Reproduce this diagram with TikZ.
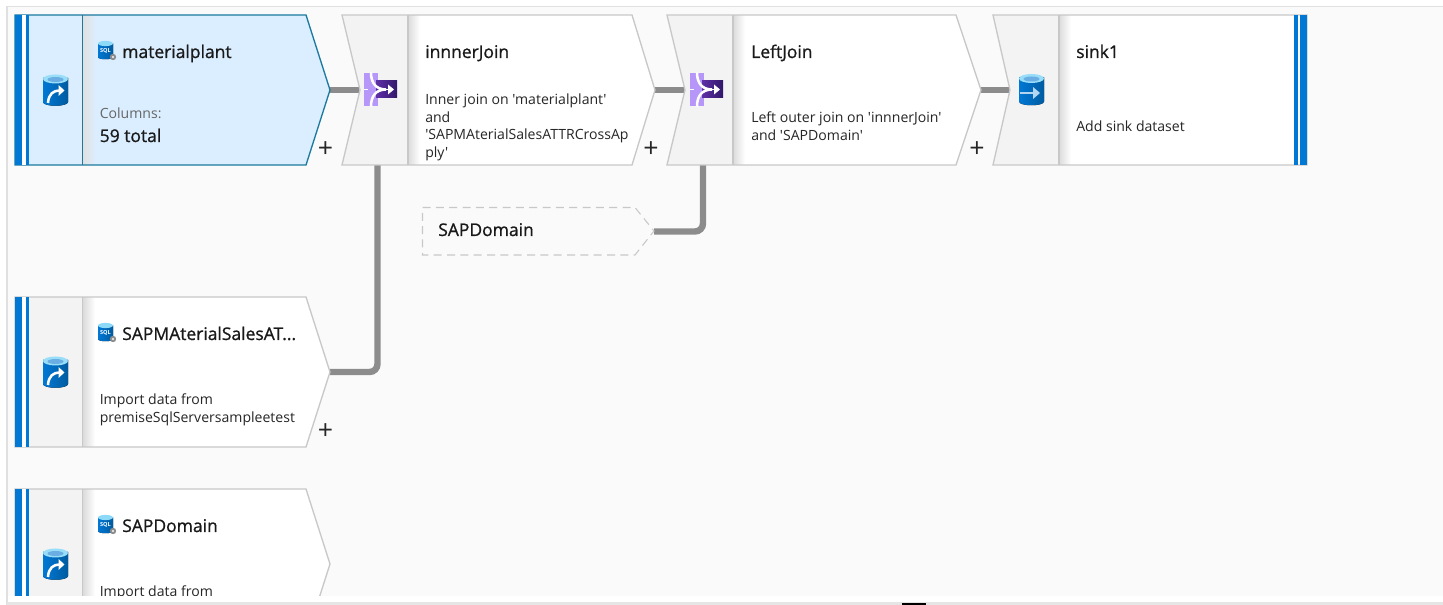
\documentclass[tikz,border=0pt]{standalone}
\usepackage{fontspec}
\setmainfont{Open Sans}
\newfontfamily\titlefont{Open Sans}[FakeBold=0.9]
\newfontfamily\bodyfont{Open Sans}
\usetikzlibrary{calc}
\definecolor{canvas}{HTML}{FAFAFA}
\definecolor{edgegrey}{HTML}{C8C8C8}
\definecolor{panelgrey}{HTML}{F3F3F3}
\definecolor{azure}{HTML}{0078D4}
\definecolor{azuredark}{HTML}{005BA1}
\definecolor{selfill}{HTML}{DBEEFF}
\definecolor{seledge}{HTML}{1B7A9E}
\definecolor{linkgrey}{HTML}{8C8C8C}
\definecolor{joinlight}{HTML}{B796F9}
\definecolor{joindark}{HTML}{32176B}
\definecolor{joinmid}{HTML}{5E2FA6}
\tikzset{
  x=0.75pt,y=-0.75pt,
  shapeedge/.style={draw=edgegrey,line width=1pt,line join=miter},
  link/.style={draw=linkgrey,line width=4.8pt,rounded corners=6pt},
  titletext/.style={anchor=base west,inner sep=0pt,font=\titlefont\fontsize{13.1pt}{15pt}\selectfont,text=black!90},
  bodytext/.style={anchor=base west,inner sep=0pt,font=\bodyfont\fontsize{10.55pt}{13pt}\selectfont,text=black!85},
  plusmark/.style={anchor=center,inner sep=0pt,font=\bodyfont\fontsize{20pt}{20pt}\selectfont,text=black!85},
  pics/cyl/.style={code={
    \fill[left color=azure,right color=azuredark] (-12.5,-12) -- (-12.5,12) .. controls (-12.5,17) and (12.5,17) .. (12.5,12) -- (12.5,-12) -- cycle;
    \fill[white!60!cyan] (0,-11) ellipse [x radius=12.5,y radius=4.5];
    \fill[cyan!70!blue!60] (0,-10.5) ellipse [x radius=8,y radius=2.5];
  }},
  pics/srcarrow/.style={code={
    \draw[white,line width=1.9pt] (-7.5,13) .. controls (-7,4) and (-2,0.5) .. (4,0.5);
    \fill[white] (3,-5) -- (9,0.5) -- (3,6) -- cycle;
  }},
  pics/sqlicon/.style={code={
    \fill[left color=azure,right color=azuredark] (-7.5,-6.5) -- (-7.5,7) .. controls (-7.5,10) and (7.5,10) .. (7.5,7) -- (7.5,-6.5) -- cycle;
    \fill[white!55!cyan] (0,-6.5) ellipse [x radius=7.5,y radius=2.6];
    \node[inner sep=0pt,text=white,font=\bodyfont\fontsize{4.2pt}{5pt}\selectfont\bfseries] at (0,1) {SQL};
    \fill[black!45] (7.5,7) circle [radius=3.2];
    \fill[selfill!30!white] (7.5,7) circle [radius=1.2];
  }},
  pics/joinicon/.style={code={
    \fill[joinlight] (0,0) rectangle (14,33);
    \fill[left color=joinmid,right color=joindark] (12,8) rectangle (33,25);
    \draw[white,line width=1.9pt] (7,-0.5) .. controls (7,10) and (12,16.5) .. (22,16.5);
    \draw[white,line width=1.9pt] (7,33.5) .. controls (7,23) and (12,16.5) .. (22,16.5);
    \draw[white,line width=0.8pt] (0,16.5) -- (4,16.5) (15,16.5) -- (26,16.5);
    \fill[white] (24,11.5) -- (30,16.5) -- (24,21.5) -- cycle;
  }}
}
\begin{document}
\begin{tikzpicture}
\useasboundingbox (0,0) rectangle (1443,605);
% frame of the page
\fill[white] (0,0) rectangle (1443,605);
\fill[canvas] (7,6) rectangle (1443,596);
\draw[black!12,line width=0.9pt] (7,605) -- (7,6.5) -- (1443,6.5);
\fill[black!10] (7,602) rectangle (1443,605);
\fill[black] (902,603) rectangle (926,605);

% connectors are drawn below the shapes
\coordinate (planttip) at (330,90);
\coordinate (innernotch) at (360,90);
\coordinate (innertip) at (655,90);
\coordinate (leftnotch) at (685,90);
\coordinate (lefttip) at (981,90);
\coordinate (sinknotch) at (1010,90);
\coordinate (innerfoot) at (377.5,165);
\coordinate (leftfoot) at (703,165);
\coordinate (saptip) at (330,372);
\coordinate (domaintip) at (654,231.5);
\draw[link] (planttip) -- (innernotch);
\draw[link] (innertip) -- (leftnotch);
\draw[link] (lefttip) -- (sinknotch);
\draw[link] (innerfoot) |- (saptip);
\draw[link] (leftfoot) |- (domaintip);

% materialplant
\fill[selfill] (15,15) -- (306,15) -- (330,90) -- (306,165) -- (15,165) -- cycle;
\shade[left color=black!12,right color=selfill] (83,15.5) rectangle (96,164.5);
\draw[seledge,line width=1pt] (15,15) -- (306,15) -- (330,90) -- (306,165) -- (15,165) -- cycle;
\draw[seledge,line width=1pt] (82.5,15) -- (82.5,165);
\fill[white] (22,15) rectangle (25.5,165);
\fill[azure] (15,15) rectangle (22,165);
\fill[azure] (25.5,15) rectangle (28.5,165);
\pic at (55.5,90) {cyl};
\pic at (55.5,90) {srcarrow};
\pic at (105.5,50) {sqlicon};
\node[titletext] (plantname) at (122,58) {materialplant};
\node[bodytext,text=black!60] (plantcols) at (99.5,119) {Columns:};
\node[titletext] (planttotal) at (99.5,142) {59 total};
\node[plusmark] (plantplus) at (325.5,150) {+};

% innnerJoin
\fill[panelgrey] (342,15) -- (408,15) -- (408,165) -- (342,165) -- (360,90) -- cycle;
\fill[white] (408,15) -- (632,15) -- (655,90) -- (632,165) -- (408,165) -- cycle;
\shade[left color=black!14,right color=white] (408,15.5) rectangle (420,164.5);
\draw[shapeedge] (342,15) -- (632,15) -- (655,90) -- (632,165) -- (342,165) -- (360,90) -- cycle;
\draw[shapeedge] (408,15) -- (408,165);
\pic at (364,73) {joinicon};
\node[titletext] (innername) at (425,58) {innnerJoin};
\node[bodytext] (innerline1) at (425,105) {Inner join on 'materialplant'};
\node[bodytext] (innerline2) at (425,122.5) {and};
\node[bodytext] (innerline3) at (425,140) {'SAPMAterialSalesATTRCrossAp};
\node[bodytext] (innerline4) at (425,158) {ply'};
\node[plusmark] (innerplus) at (651,150) {+};

% LeftJoin
\fill[panelgrey] (667,15) -- (733,15) -- (733,165) -- (667,165) -- (685,90) -- cycle;
\fill[white] (733,15) -- (956,15) -- (981,90) -- (956,165) -- (733,165) -- cycle;
\shade[left color=black!14,right color=white] (733,15.5) rectangle (745,164.5);
\draw[shapeedge] (667,15) -- (956,15) -- (981,90) -- (956,165) -- (667,165) -- (685,90) -- cycle;
\draw[shapeedge] (733,15) -- (733,165);
\pic at (690,73) {joinicon};
\node[titletext] (leftname) at (751,58) {LeftJoin};
\node[bodytext] (leftline1) at (751,123) {Left outer join on 'innnerJoin'};
\node[bodytext] (leftline2) at (751,141) {and 'SAPDomain'};
\node[plusmark] (leftplus) at (977,150) {+};

% sink1
\fill[panelgrey] (993,15) -- (1059,15) -- (1059,165) -- (993,165) -- (1010,90) -- cycle;
\fill[white] (1059,15) rectangle (1307,165);
\shade[left color=black!14,right color=white] (1059,15.5) rectangle (1071,164.5);
\draw[shapeedge] (993,15) -- (1307,15) -- (1307,165) -- (993,165) -- (1010,90) -- cycle;
\draw[shapeedge] (1059,15) -- (1059,165);
\fill[azure] (1294,15) rectangle (1297.5,165);
\fill[azure] (1300,15) rectangle (1307,165);
\pic at (1031.5,89.5) {cyl};
\draw[white!70!azure,line width=1.5pt] (1020,93) -- (1034,93);
\fill[white!70!azure] (1033,87) -- (1040,93) -- (1033,99) -- cycle;
\node[titletext] (sinkname) at (1076,58) {sink1};
\node[bodytext] (sinkline) at (1076,132) {Add sink dataset};

% dashed SAPDomain
\draw[edgegrey,line width=0.8pt,dash pattern=on 6pt off 4pt] (422.5,207.5) -- (635,207.5) -- (654,231) -- (635,255) -- (422.5,255) -- cycle;
\node[titletext] (domainghost) at (438,236) {SAPDomain};

% SAPMAterialSalesATTR...
\fill[white] (15,297) -- (306,297) -- (330,372) -- (306,447) -- (15,447) -- cycle;
\fill[panelgrey] (15,297) rectangle (82,447);
\shade[left color=black!14,right color=white] (83,297.5) rectangle (95,446.5);
\draw[shapeedge] (15,297) -- (306,297) -- (330,372) -- (306,447) -- (15,447) -- cycle;
\draw[shapeedge] (82.5,297) -- (82.5,447);
\fill[white] (22,297) rectangle (25.5,447);
\fill[azure] (15,297) rectangle (22,447);
\fill[azure] (25.5,297) rectangle (28.5,447);
\pic at (55.5,372) {cyl};
\pic at (55.5,372) {srcarrow};
\pic at (105.5,332) {sqlicon};
\node[titletext] (sapname) at (122,340) {SAPMAterialSalesAT...};
\node[bodytext] (sapline1) at (99.5,405) {Import data from};
\node[bodytext] (sapline2) at (99.5,423) {premiseSqlServersampleetest};
\node[plusmark] (sapplus) at (325.5,432) {+};

% SAPDomain, cut by the bottom of the canvas
\begin{scope}
\clip (8,7) rectangle (1443,596);
\fill[white] (15,489) -- (306,489) -- (330,564) -- (306,639) -- (15,639) -- cycle;
\fill[panelgrey] (15,489) rectangle (82,639);
\shade[left color=black!14,right color=white] (83,489.5) rectangle (95,638.5);
\draw[shapeedge] (15,489) -- (306,489) -- (330,564) -- (306,639) -- (15,639) -- cycle;
\draw[shapeedge] (82.5,489) -- (82.5,639);
\fill[white] (22,489) rectangle (25.5,639);
\fill[azure] (15,489) rectangle (22,639);
\fill[azure] (25.5,489) rectangle (28.5,639);
\pic at (55.5,564) {cyl};
\pic at (55.5,564) {srcarrow};
\pic at (105.5,524) {sqlicon};
\node[titletext] (domainname) at (122,532) {SAPDomain};
\node[bodytext] (domainline) at (99.5,597) {Import data from};
\end{scope}
\end{tikzpicture}
\end{document}
